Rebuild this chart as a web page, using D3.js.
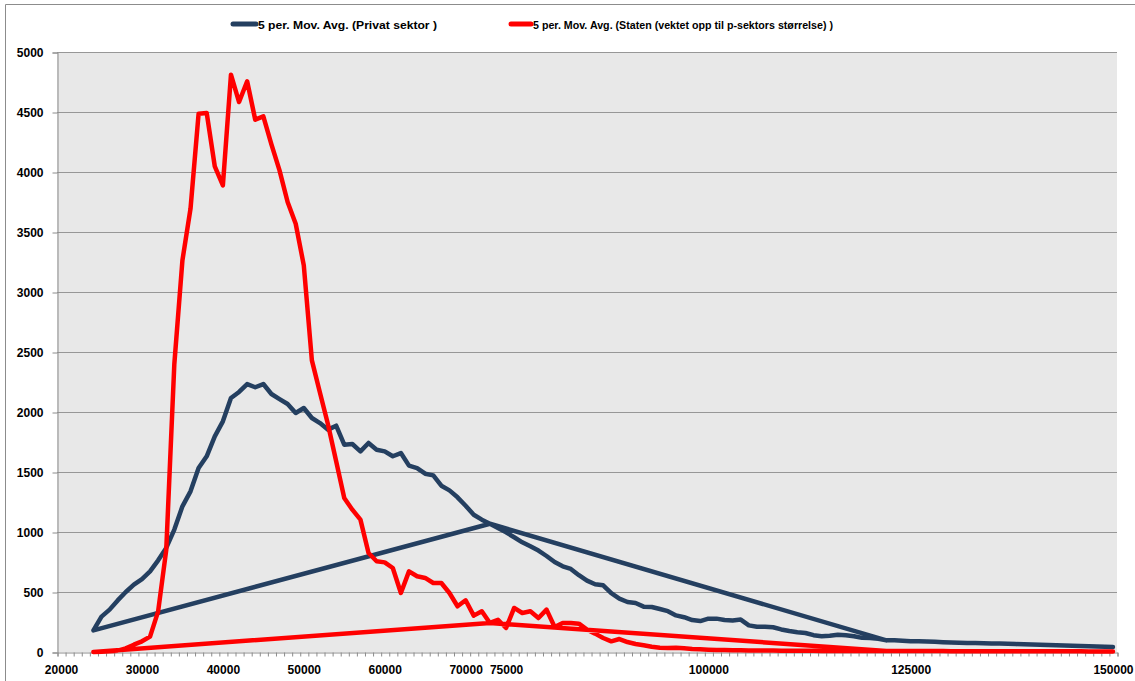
<!DOCTYPE html>
<html>
<head>
<meta charset="utf-8">
<script src="https://cdn.jsdelivr.net/npm/d3@7"></script>
<style>
  html, body { margin: 0; padding: 0; background: #ffffff; }
  svg { display: block; }
  text { font-family: "Liberation Sans", Arial, sans-serif; font-weight: bold; fill: #000; }
</style>
</head>
<body>
<svg id="chart" width="1135" height="681"></svg>
<script>
// ---- DATA (rows in the order the original sheet plots them) ----
const salary = [122000, 73000,
  24000, 25000, 26000, 27000, 28000, 29000, 30000, 31000, 32000, 33000,
  34000, 35000, 36000, 37000, 38000, 39000, 40000, 41000, 42000, 43000,
  44000, 45000, 46000, 47000, 48000, 49000, 50000, 51000, 52000, 53000,
  54000, 55000, 56000, 57000, 58000, 59000, 60000, 61000, 62000, 63000,
  64000, 65000, 66000, 67000, 68000, 69000, 70000, 71000, 72000, 73000,
  74000, 75000, 76000, 77000, 78000, 79000, 80000, 81000, 82000, 83000,
  84000, 85000, 86000, 87000, 88000, 89000, 90000, 91000, 92000, 93000,
  94000, 95000, 96000, 97000, 98000, 99000, 100000, 101000, 102000, 103000,
  104000, 105000, 106000, 107000, 108000, 109000, 110000, 111000, 112000, 113000,
  114000, 115000, 116000, 117000, 118000, 119000, 120000, 121000, 122000, 123000,
  124000, 125000, 126000, 127000, 128000, 129000, 130000, 131000, 132000, 133000,
  134000, 135000, 136000, 137000, 138000, 139000, 140000, 141000, 142000, 143000,
  144000, 145000, 146000, 147000, 148000, 149000, 150000];

const privatSektor = [97, 1069,
  180, 295, 353, 430, 500, 561, 608, 672, 764, 867,
  1020, 1214, 1339, 1533, 1631, 1797, 1922, 2117, 2167, 2233,
  2206, 2233, 2150, 2108, 2067, 1992, 2033, 1950, 1908, 1853,
  1886, 1728, 1733, 1672, 1742, 1686, 1672, 1631, 1658, 1553,
  1533, 1486, 1472, 1386, 1347, 1289, 1219, 1144, 1103, 1069,
  1033, 997, 956, 914, 881, 845, 800, 750, 714, 692,
  640, 595, 565, 556, 490, 445, 417, 408, 378, 375,
  358, 340, 305, 290, 266, 258, 278, 278, 266, 262,
  270, 222, 210, 210, 206, 188, 175, 165, 158, 140,
  132, 136, 144, 140, 131, 118, 117, 110, 97, 97,
  94, 90, 89, 87, 85, 82, 80, 78, 76, 75,
  73, 71, 70, 68, 66, 64, 62, 60, 58, 56,
  54, 52, 50, 48, 46, 44, 42];

const staten = [9, 242,
  0, 3, 6, 11, 30, 61, 89, 128, 339, 850,
  2400, 3264, 3694, 4486, 4492, 4047, 3889, 4811, 4583, 4756,
  4436, 4464, 4230, 4014, 3750, 3569, 3222, 2430, 2160, 1894,
  1589, 1283, 1186, 1103, 825, 756, 747, 700, 492, 672,
  631, 617, 575, 575, 492, 381, 431, 303, 339, 242,
  269, 200, 367, 325, 339, 283, 353, 208, 242, 242,
  236, 186, 153, 117, 89, 108, 83, 67, 56, 44,
  36, 33, 36, 31, 25, 22, 19, 17, 16, 15,
  14, 13, 13, 12, 12, 11, 11, 10, 10, 10,
  9, 9, 9, 9, 9, 9, 9, 9, 9, 8,
  8, 8, 8, 8, 8, 8, 7, 7, 7, 7,
  7, 7, 7, 7, 6, 6, 6, 6, 6, 6,
  6, 6, 6, 5, 5, 5, 5];

const seriesNames = ["5 per. Mov. Avg. (Privat sektor )",
                     "5 per. Mov. Avg. (Staten (vektet opp til p-sektors størrelse) )"];
const seriesColors = ["#243F60", "#FF0000"];
const xTickLabels = [20000, 30000, 40000, 50000, 60000, 70000, 75000, 100000, 125000, 150000];
const yTickLabels = [0, 500, 1000, 1500, 2000, 2500, 3000, 3500, 4000, 4500, 5000];

// ---- LAYOUT ----
const svg = d3.select("#chart");
const plot = { left: 57, right: 1117, top: 52, bottom: 652 };

const x = d3.scaleLinear().domain([19500, 150500]).range([plot.left, plot.right]);
const y = d3.scaleLinear().domain([0, 5000]).range([plot.bottom, plot.top]);

// outer chart border
svg.append("path")
  .attr("d", `M5.5,681 V4.5 H1135`)
  .attr("fill", "none").attr("stroke", "#8c8c8c").attr("stroke-width", 1);

// plot background
svg.append("rect")
  .attr("x", plot.left).attr("y", plot.top)
  .attr("width", plot.right - plot.left).attr("height", plot.bottom - plot.top)
  .attr("fill", "#e8e8e8");

// gridlines
svg.append("g").selectAll("line").data(yTickLabels.filter(d => d > 0)).join("line")
  .attr("x1", plot.left).attr("x2", plot.right)
  .attr("y1", d => Math.round(y(d)) + 0.5).attr("y2", d => Math.round(y(d)) + 0.5)
  .attr("stroke", "#979797").attr("stroke-width", 1);

// y axis
const yAxis = d3.axisLeft(y).tickValues(yTickLabels).tickSize(5).tickPadding(9)
  .tickFormat(d3.format("d"));
const gy = svg.append("g").attr("transform", `translate(${plot.left + 0.5},0.5)`).call(yAxis);
gy.select(".domain").attr("stroke", "#8c8c8c");
gy.selectAll(".tick line").attr("stroke", "#8c8c8c");
gy.selectAll(".tick text").style("font-size", "12px").style("font-family", "'Liberation Sans', Arial, sans-serif")
  .style("font-weight", "bold").attr("fill", "#000");

// x axis: category tick marks
const catBounds = d3.range(19500, 150501, 1000);
const xAxisMarks = d3.axisBottom(x).tickValues(catBounds).tickSize(4).tickFormat("");
const gx = svg.append("g").attr("transform", `translate(0.5,${plot.bottom + 0.5})`).call(xAxisMarks);
gx.select(".domain").attr("stroke", "#8c8c8c");
gx.selectAll(".tick line").attr("stroke", "#8c8c8c");

// x axis labels
const xAxisLabels = d3.axisBottom(x).tickValues(xTickLabels).tickSize(0).tickPadding(13)
  .tickFormat(d3.format("d"));
const gxl = svg.append("g").attr("transform", `translate(0,${plot.bottom})`).call(xAxisLabels);
gxl.select(".domain").remove();
gxl.selectAll(".tick text").style("font-size", "12px").style("font-family", "'Liberation Sans', Arial, sans-serif")
  .style("font-weight", "bold").attr("fill", "#000");

// lines
const rows = salary.map((s, i) => ({ s, a: privatSektor[i], b: staten[i] }));
const lineA = d3.line().x(d => x(d.s)).y(d => y(d.a));
const lineB = d3.line().x(d => x(d.s)).y(d => y(d.b));

svg.append("path").datum(rows).attr("d", lineA)
  .attr("fill", "none").attr("stroke", seriesColors[0]).attr("stroke-width", 4.5)
  .attr("stroke-linejoin", "round").attr("stroke-linecap", "round");
svg.append("path").datum(rows).attr("d", lineB)
  .attr("fill", "none").attr("stroke", seriesColors[1]).attr("stroke-width", 4.5)
  .attr("stroke-linejoin", "round").attr("stroke-linecap", "round");

// legend
const legendItems = [
  { x0: 233, x1: 256, tx: 258, w: 179 },
  { x0: 511, x1: 531, tx: 533, w: 300 }
];
legendItems.forEach((L, i) => {
  svg.append("line").attr("x1", L.x0).attr("x2", L.x1).attr("y1", 24).attr("y2", 24)
    .attr("stroke", seriesColors[i]).attr("stroke-width", 5).attr("stroke-linecap", "round");
  svg.append("text").attr("x", L.tx).attr("y", 28.5)
    .style("font-size", "11.5px")
    .attr("textLength", L.w).attr("lengthAdjust", "spacingAndGlyphs")
    .text(seriesNames[i]);
});
</script>
</body>
</html>
